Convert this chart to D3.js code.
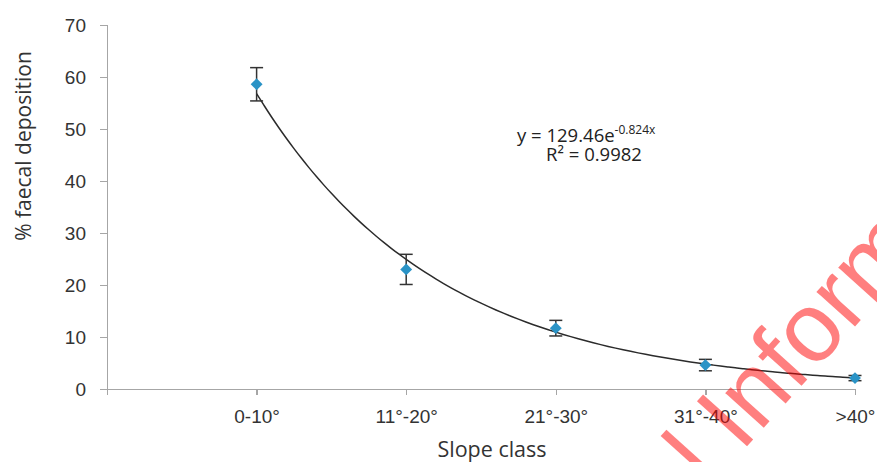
<!DOCTYPE html>
<meta charset="utf-8">
<style>
body { margin: 0; background: #fff; }
svg { display: block; font-family: "Open Sans", sans-serif; }
.axis path, .axis line { fill: none; stroke: #a6a6a6; stroke-width: 1.3px; shape-rendering: crispEdges; }
.axis text { fill: #333; font-size: 19px; }
.curve { fill: none; stroke: #2b2b2b; stroke-width: 1.5px; }
.err { stroke: #333; stroke-width: 1.5px; }
.pt { fill: #2a93c6; }
</style>
<body>
<svg width="877" height="462"></svg>
<script src="https://d3js.org/d3.v7.min.js"></script>
<script>
// values
var slopeClass = ["0-10°", "11°-20°", "21°-30°", "31°-40°", ">40°"];
var deposition = [58.6, 23.0, 11.7, 4.6, 2.1];
var errSize = [3.2, 2.9, 1.5, 1.1, 0.5];
var yTicks = [0, 10, 20, 30, 40, 50, 60, 70];
// exponential trendline from the chart
var trendA = 129.46, trendB = -0.824;

var svg = d3.select("svg");

var x = d3.scaleLinear().domain([0, 5]).range([107, 855]);
var y = d3.scaleLinear().domain([0, 70]).range([389, 25]);

// y axis
svg.append("g")
    .attr("class", "axis")
    .attr("transform", "translate(107,0)")
    .call(d3.axisLeft(y).tickValues(yTicks).tickSizeOuter(0).tickSize(7).tickPadding(14))
    .selectAll("text").attr("dy", "0.36em");

// x axis, ticks at origin and each class
svg.append("g")
    .attr("class", "axis")
    .attr("transform", "translate(0,389)")
    .call(d3.axisBottom(x).tickValues([0, 1, 2, 3, 4, 5]).tickSize(6).tickSizeOuter(0).tickPadding(15)
      .tickFormat(function(d) { return d === 0 ? "" : slopeClass[d - 1]; }));

// titles
svg.append("text")
    .attr("transform", "translate(31,146) rotate(-90)")
    .attr("text-anchor", "middle")
    .style("font-size", "21px").attr("fill", "#333")
    .text("% faecal deposition");

svg.append("text")
    .attr("x", 492).attr("y", 457)
    .attr("text-anchor", "middle")
    .style("font-size", "21.5px").attr("fill", "#333")
    .text("Slope class");

// trend curve
var line = d3.line()
    .x(function(d) { return x(d); })
    .y(function(d) { return y(trendA * Math.exp(trendB * d)); })
    .curve(d3.curveBasis);

svg.append("path")
    .datum(d3.range(1, 5.001, 0.05))
    .attr("class", "curve")
    .attr("d", line);

// error bars
var eb = svg.append("g").selectAll("g")
    .data(deposition)
    .join("g");

eb.append("line").attr("class", "err")
    .attr("x1", function(d, i) { return x(i + 1); })
    .attr("x2", function(d, i) { return x(i + 1); })
    .attr("y1", function(d, i) { return y(d + errSize[i]); })
    .attr("y2", function(d, i) { return y(d - errSize[i]); });

[1, -1].forEach(function(s) {
  eb.append("line").attr("class", "err")
      .attr("x1", function(d, i) { return x(i + 1) - 6.5; })
      .attr("x2", function(d, i) { return x(i + 1) + 6.5; })
      .attr("y1", function(d, i) { return y(d + s * errSize[i]); })
      .attr("y2", function(d, i) { return y(d + s * errSize[i]); });
});

// diamond markers
svg.append("g").selectAll("path")
    .data(deposition)
    .join("path")
    .attr("class", "pt")
    .attr("transform", function(d, i) { return "translate(" + x(i + 1) + "," + y(d) + ")"; })
    .attr("d", d3.symbol(d3.symbolDiamond2, 90));

// equation
var eq = svg.append("text")
    .attr("x", 517).attr("y", 142)
    .style("font-size", "18.5px").attr("fill", "#222");
eq.append("tspan").text("y = 129.46e");
eq.append("tspan").attr("dy", -8).style("font-size", "12px").text("-0.824x");

svg.append("text")
    .attr("x", 594).attr("y", 161)
    .attr("text-anchor", "middle")
    .style("font-size", "18.5px").attr("fill", "#222")
    .text("R² = 0.9982");

// watermark
var wm = svg.append("g")
    .attr("transform", "translate(741,453) rotate(-48)")
    .attr("fill", "#ff0000").attr("fill-opacity", 0.5)
    .style("font-family", "Liberation Sans, sans-serif")
    .style("font-size", "98px");

wm.append("text").attr("text-anchor", "start").text("Informa");
wm.append("text").attr("text-anchor", "end").attr("dx", -26).text("l");
</script>
